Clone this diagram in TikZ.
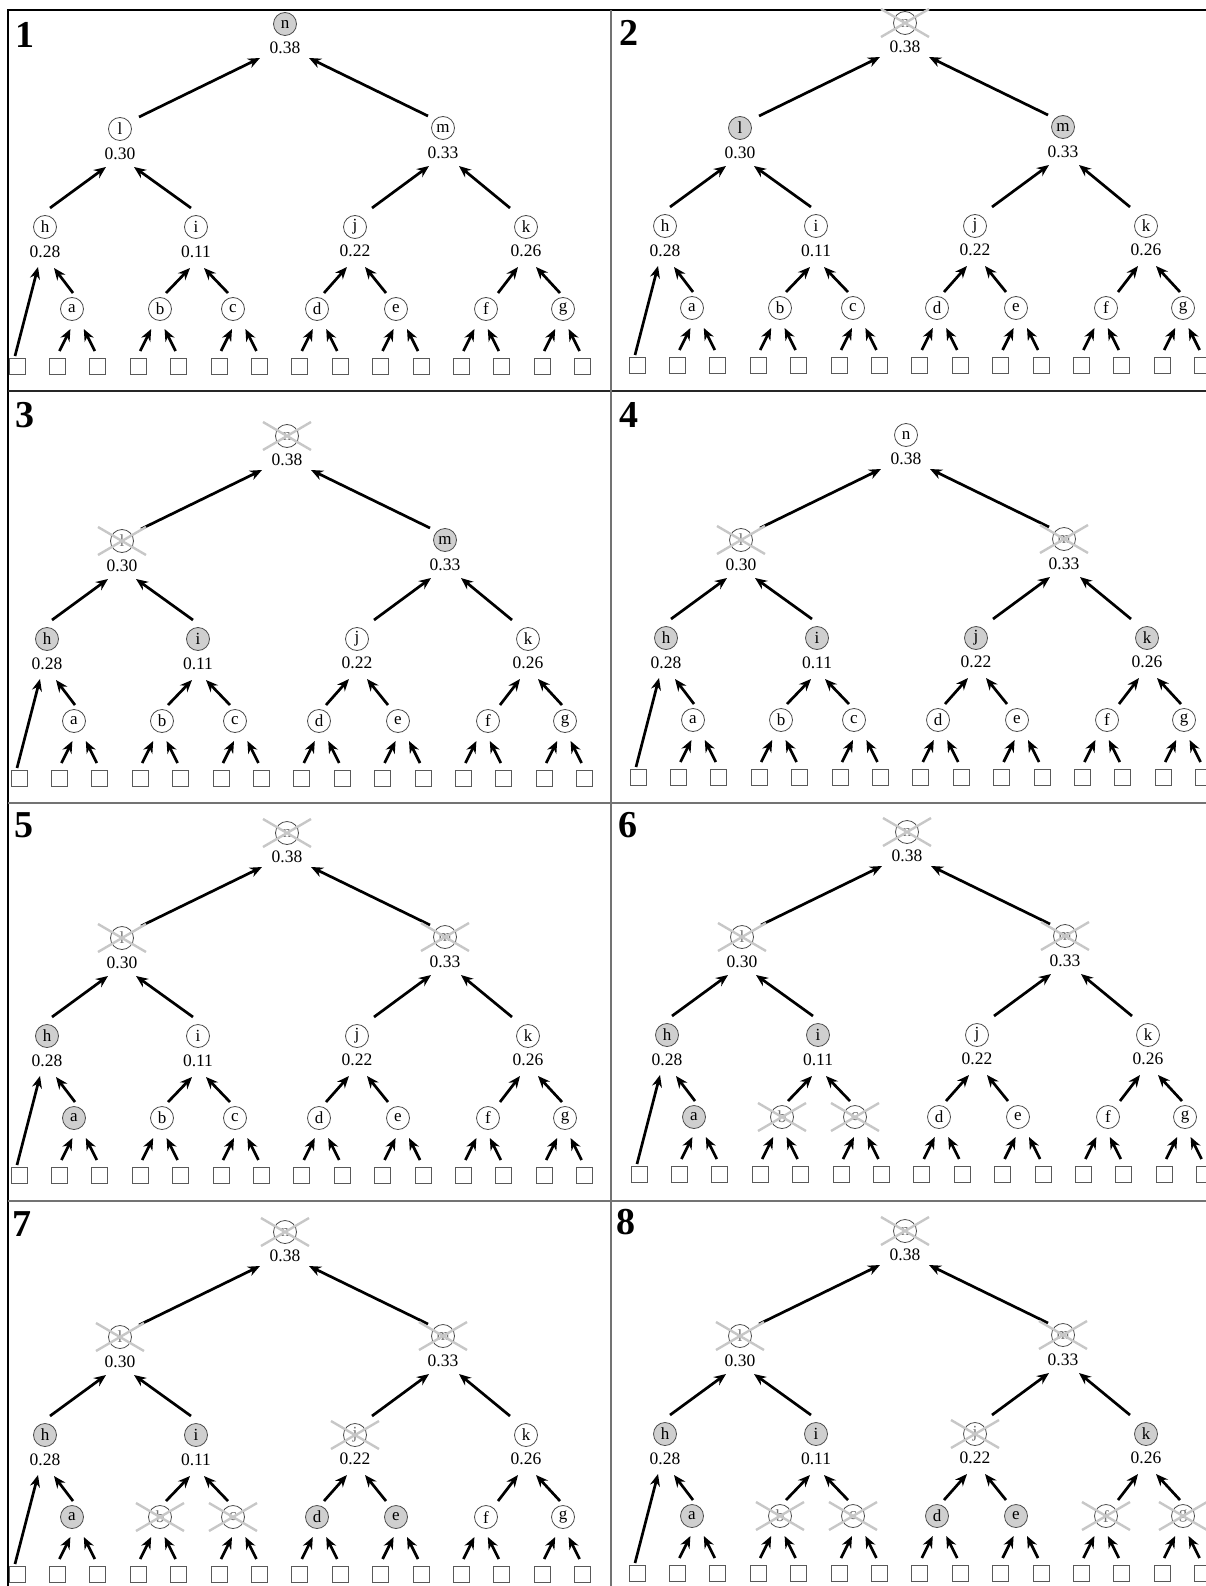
\documentclass[tikz,border=0pt]{standalone}
\usepackage{fontspec}
\setmainfont{Liberation Serif}
\usetikzlibrary{arrows.meta}

\newcommand{\valfont}{\fontsize{17.5}{18}\selectfont}
\newcommand{\letfont}{\fontsize{17}{17}\selectfont}

% node states, reset in every panel
\pgfkeys{/st/.cd, n/.initial=plain, l/.initial=plain, m/.initial=plain,
  h/.initial=plain, i/.initial=plain, j/.initial=plain, k/.initial=plain,
  a/.initial=plain, b/.initial=plain, c/.initial=plain, d/.initial=plain,
  e/.initial=plain, f/.initial=plain, g/.initial=plain}

\tikzset{
  ring/.style={circle, draw=black!70, line width=0.8pt, minimum size=23pt, inner sep=0pt, font=\letfont},
  plain/.style={ring, fill=white},
  hit/.style={ring, fill=black!19},
  gone/.style={ring, fill=white, text=black!55},
  val/.style={font=\valfont, inner sep=0pt},
  leafbox/.style={draw=black!65, line width=0.8pt, minimum size=16pt, inner sep=0pt},
  arr/.style={-{Stealth[length=12pt,width=10pt]}, line width=2.7pt},
  xmark/.style={draw=black!22, line width=2.4pt},
  tag/.style={font=\fontsize{38}{38}\selectfont\bfseries},
}

% #1,#2 origin of the tree, #3 states, #4 crossed nodes
\newcommand{\drawpanel}[4]{%
\begin{scope}[shift={(#1,#2)}]
  \pgfkeys{/st/.cd,#3}
  % tree nodes
  \foreach \nm/\x/\y in {n/285/24, l/120/129, m/443/128, h/45/227, i/196/227,
      j/355/227, k/526/227, a/72/309, b/160/309, c/233/309, d/317/309,
      e/396/309, f/486/309, g/563/309} {
    \pgfkeysgetvalue{/st/\nm}{\ndst}
    \node[\ndst] (\nm) at (\x,\y) {\nm};
  }
  % weights
  \foreach \nm/\x/\y/\w in {n/285/48/0.38, l/120/154/0.30, m/443/153/0.33,
      h/45/252/0.28, i/196/252/0.11, j/355/251/0.22, k/526/251/0.26}
    \node[val] (v\nm) at (\x,\y) {\w};
  % bottom boxes
  \foreach \s in {1,...,15}
    \node[leafbox] (s\s) at ({17+40.4*(\s-1)},366) {};
  % arrows, child to parent
  \foreach \c/\p/\sx/\ex in {l/n/19/-25, m/n/-15/24}
    \draw[arr] ([shift={(\sx pt,12pt)}]\c.center) -- ([shift={(\ex pt,-10pt)}]v\p.center);
  \foreach \c/\p/\sx/\ex in {h/l/5/-14, i/l/-5/14, j/m/17/-14, k/m/-16/16}
    \draw[arr] ([shift={(\sx pt,19pt)}]\c.center) -- ([shift={(\ex pt,-13pt)}]v\p.center);
  \foreach \c/\p/\sx/\ex in {a/h/1/9, b/i/6/-6, c/i/-5/8, d/j/7/-8, e/j/-10/10,
      f/k/12/-8, g/k/-3/10}
    \draw[arr] ([shift={(\sx pt,16pt)}]\c.center) -- ([shift={(\ex pt,-16pt)}]v\p.center);
  \draw[arr] ([shift={(-2pt,10pt)}]s1.center) -- ([shift={(-7pt,-15pt)}]vh.center);
  \foreach \lf/\sa/\sb/\ea/\eb in {a/2/3/-1.6/11.8, b/4/5/-8.8/4.6, c/6/7/-1/12.4,
      d/8/9/-4.2/9.2, e/10/11/-2.4/11, f/12/13/-11.6/1.8, g/14/15/-7.8/5.6} {
    \draw[arr] ([shift={(2pt,15pt)}]s\sa.center) -- ([shift={(\ea pt,-20pt)}]\lf.center);
    \draw[arr] ([shift={(-3pt,15pt)}]s\sb.center) -- ([shift={(\eb pt,-20pt)}]\lf.center);
  }
  % crossed out nodes
  \if\relax\detokenize{#4}\relax\else
  \foreach \nm in {#4}
    \draw[xmark] ([shift={(-24pt,-14pt)}]\nm.center) -- ([shift={(24pt,14pt)}]\nm.center)
      ([shift={(-24pt,14pt)}]\nm.center) -- ([shift={(24pt,-14pt)}]\nm.center);
  \fi
\end{scope}}

\begin{document}
\begin{tikzpicture}[x=1pt,y=-1pt]
  \clip (0,0) rectangle (1206,1586);
  \useasboundingbox (0,0) rectangle (1206,1586);
  % frame of the eight panels
  \draw[line width=1.2pt] (8,1586) -- (8,10) -- (1206,10);
  \draw[black!85, line width=1.2pt] (8,391) -- (1206,391);
  \draw[black!55, line width=1.2pt] (8,803) -- (1206,803) (8,1201) -- (1206,1201);
  \draw[black!55, line width=1.4pt] (611,10) -- (611,1586);
  % panel numbers
  \foreach \k/\x/\y in {1/25/35, 2/629/33, 3/25/415, 4/629/415,
      5/24/825, 6/628/825, 7/22/1224, 8/626/1222}
    \node[tag] (tag\k) at (\x,\y) {\k};
  % the eight steps
  \drawpanel{0}{0}{n=hit}{}
  \drawpanel{620}{-1}{n=gone, l=hit, m=hit}{n}
  \drawpanel{2}{412}{n=gone, l=gone, m=hit, h=hit, i=hit}{n,l}
  \drawpanel{621}{411}{l=gone, m=gone, h=hit, i=hit, j=hit, k=hit}{l,m}
  \drawpanel{2}{809}{n=gone, l=gone, m=gone, h=hit, a=hit}{n,l,m}
  \drawpanel{622}{808}{n=gone, l=gone, m=gone, h=hit, i=hit, a=hit,
      b=gone, c=gone}{n,l,m,b,c}
  \drawpanel{0}{1208}{n=gone, l=gone, m=gone, h=hit, i=hit, j=gone, a=hit,
      b=gone, c=gone, d=hit, e=hit}{n,l,m,j,b,c}
  \drawpanel{620}{1207}{n=gone, l=gone, m=gone, h=hit, i=hit, j=gone, k=hit,
      a=hit, b=gone, c=gone, d=hit, e=hit, f=gone, g=gone}{n,l,m,j,b,c,f,g}
\end{tikzpicture}
\end{document}
